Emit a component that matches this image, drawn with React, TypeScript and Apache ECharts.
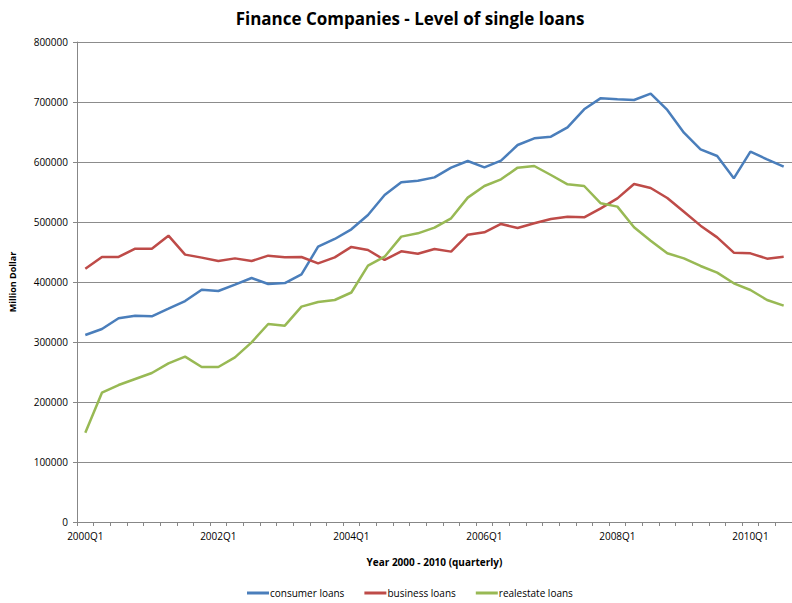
import React, { useEffect, useRef } from "react";
import * as echarts from "echarts";

const quarters = [
  "2000Q1","2000Q2","2000Q3","2000Q4",
  "2001Q1","2001Q2","2001Q3","2001Q4",
  "2002Q1","2002Q2","2002Q3","2002Q4",
  "2003Q1","2003Q2","2003Q3","2003Q4",
  "2004Q1","2004Q2","2004Q3","2004Q4",
  "2005Q1","2005Q2","2005Q3","2005Q4",
  "2006Q1","2006Q2","2006Q3","2006Q4",
  "2007Q1","2007Q2","2007Q3","2007Q4",
  "2008Q1","2008Q2","2008Q3","2008Q4",
  "2009Q1","2009Q2","2009Q3","2009Q4",
  "2010Q1","2010Q2","2010Q3",
];

const consumerLoans = [
  311700, 321700, 339500, 343900, 342800, 355500, 368300, 387200,
  385000, 395600, 406700, 396700, 398300, 412800, 458800, 471700,
  487800, 511700, 545000, 566100, 568900, 574400, 590600, 601700,
  591100, 602200, 628300, 639400, 642200, 657800, 687800, 706400,
  704400, 703300, 713900, 686700, 648900, 621100, 610000, 572800,
  617200, 604400, 592200,
];

const businessLoans = [
  422200, 441700, 441700, 455600, 455600, 477200, 445600, 440600,
  435000, 439400, 435000, 443900, 441100, 441700, 431100, 441100,
  458500, 453300, 436700, 451100, 447200, 455000, 450600, 478900,
  482800, 496700, 490000, 497800, 505000, 508900, 507800, 522800,
  539400, 563300, 556700, 540000, 517200, 493900, 474400, 448900,
  447800, 438900, 442200,
];

const realestateLoans = [
  148900, 215500, 228300, 238300, 248300, 264400, 275600, 258300,
  258300, 274400, 299400, 330000, 327200, 358900, 366700, 370000,
  382500, 427200, 442200, 475600, 481100, 490600, 506100, 540600,
  560000, 571100, 590600, 593300, 578300, 562800, 560000, 531100,
  525600, 491100, 468900, 447800, 439400, 426700, 415600, 397800,
  386700, 370000, 360600,
];

const seriesNames = ["consumer loans", "business loans", "realestate loans"];
const seriesColors = ["#4A7EBB", "#BE4B48", "#98B954"];

export default function App() {
  const ref = useRef<HTMLDivElement>(null);
  useEffect(() => {
    if (!ref.current) return;
    const chart = echarts.init(ref.current, null, { renderer: "svg" });
    const font = "'Open Sans', 'Liberation Sans', sans-serif";
    const datasets = [consumerLoans, businessLoans, realestateLoans];
    chart.setOption({
      animation: false,
      backgroundColor: "#ffffff",
      title: {
        text: "Finance Companies - Level of single loans",
        left: 405,
        textAlign: "center",
        top: 5,
        textStyle: { fontFamily: font, fontWeight: "bold", fontSize: 17, color: "#000" },
      },
      legend: {
        data: seriesNames,
        bottom: 0,
        left: 242,
        itemWidth: 22,
        itemHeight: 3,
        itemGap: 20,
        icon: "rect",
        textStyle: { fontFamily: font, fontSize: 10, color: "#000", padding: [0, 0, 0, -4] },
      },
      grid: { left: 77, right: 0, top: 42, bottom: 81, containLabel: false },
      xAxis: {
        type: "category",
        data: quarters,
        boundaryGap: true,
        name: "Year 2000 - 2010 (quarterly)",
        nameLocation: "middle",
        nameGap: 35,
        nameTextStyle: { fontFamily: font, fontWeight: "bold", fontSize: 10, color: "#000" },
        axisLine: { lineStyle: { color: "#878787", width: 1 } },
        axisTick: { show: true, interval: 0, length: 4, lineStyle: { color: "#878787" } },
        axisLabel: { interval: 7, fontFamily: font, fontSize: 10, color: "#000", margin: 9 },
        splitLine: { show: false },
      },
      yAxis: {
        type: "value",
        min: 0,
        max: 800000,
        interval: 100000,
        name: "Million Dollar",
        nameLocation: "middle",
        nameRotate: 90,
        nameGap: 60,
        nameTextStyle: { fontFamily: font, fontWeight: "bold", fontSize: 9, color: "#000" },
        axisLine: { show: true, lineStyle: { color: "#878787", width: 1 } },
        axisTick: { show: true, length: 4, lineStyle: { color: "#878787" } },
        axisLabel: {
          fontFamily: font,
          fontSize: 10,
          color: "#000",
          margin: 9,
          formatter: (v: number) => String(v),
        },
        splitLine: { show: true, lineStyle: { color: "#8c8c8c", width: 1 } },
      },
      series: datasets.map((d, i) => ({
        name: seriesNames[i],
        type: "line",
        data: d,
        symbol: "none",
        smooth: false,
        lineStyle: { color: seriesColors[i], width: 2.5 },
        itemStyle: { color: seriesColors[i] },
      })),
    });
    return () => chart.dispose();
  }, []);
  return <div ref={ref} style={{ width: 792, height: 603, position: "absolute", left: 0, top: 0 }} />;
}
